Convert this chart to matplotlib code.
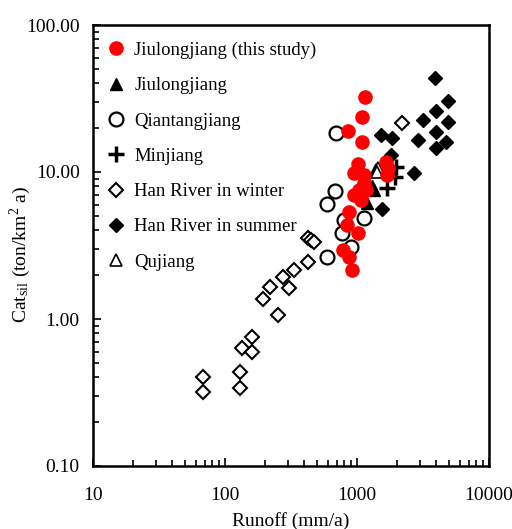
import matplotlib
matplotlib.use("Agg")
import matplotlib.pyplot as plt
from matplotlib.ticker import FixedLocator, FixedFormatter, LogLocator, NullFormatter

plt.rcParams['font.family'] = ['Liberation Serif', 'DejaVu Serif']
plt.rcParams['mathtext.fontset'] = 'stix'

# Jiulongjiang (this study)
jl_study_x = [1156, 1099, 861, 1099, 1025, 955, 1138, 1138, 1178, 955, 1080, 877, 846, 1025, 789, 877, 923, 1667, 1698, 1728, 1042]
jl_study_y = [32.4, 23.7, 19.0, 16.0, 11.3, 9.85, 9.55, 8.42, 7.55, 6.98, 6.45, 5.34, 4.36, 3.85, 2.95, 2.64, 2.15, 11.7, 9.55, 10.6, 7.55]
# Jiulongjiang (literature)
jl_x = [1353, 1199, 1290]
jl_y = [7.55, 6.15, 8.0]
# Qiantangjiang
qt_x = [698, 687, 597, 803, 1138, 776, 907, 597]
qt_y = [18.4, 7.43, 6.06, 4.71, 4.86, 3.85, 3.09, 2.64]
# Minjiang
mj_x = [1986, 1950, 1698]
mj_y = [10.8, 9.3, 7.79]
# Han River in winter
hw_x = [68, 68, 129, 129, 134, 159, 159, 250, 193, 218, 273, 308, 336, 422, 422, 452, 470, 2203]
hw_y = [0.40, 0.32, 0.435, 0.34, 0.635, 0.75, 0.60, 1.06, 1.37, 1.65, 1.93, 1.62, 2.15, 2.44, 3.56, 3.45, 3.35, 21.5]
# Han River in summer
hs_x = [3917, 4909, 3984, 3177, 4909, 3984, 4742, 3984, 2911, 1852, 1528, 1820, 2716, 1556]
hs_y = [43.6, 30.4, 26.0, 22.6, 21.9, 18.7, 16.0, 14.6, 16.5, 17.0, 17.9, 13.1, 9.85, 5.60]
# Qujiang
qj_x = [1402, 1455, 1426]
qj_y = [10.3, 10.6, 10.0]

y_ticks = [0.1, 1, 10, 100]
y_labels = ['0.10', '1.00', '10.00', '100.00']
x_ticks = [10, 100, 1000, 10000]
x_labels = ['10', '100', '1000', '10000']

fig = plt.figure(figsize=(5.12, 5.29), dpi=100)
ax = fig.add_axes([93/512, 1-466/529, (489-93)/512, (466-25)/529])

ax.plot(hw_x, hw_y, linestyle='none', marker='D', markersize=7.5, markerfacecolor='white',
        markeredgecolor='black', markeredgewidth=1.5, label='Han River in winter', zorder=2)
ax.plot(hs_x, hs_y, linestyle='none', marker='D', markersize=7.5, color='black',
        label='Han River in summer', zorder=2)
ax.plot(qt_x, qt_y, linestyle='none', marker='o', markersize=10, markerfacecolor='none',
        markeredgecolor='black', markeredgewidth=1.6, label='Qiantangjiang', zorder=3)
ax.plot(qj_x, qj_y, linestyle='none', marker='^', markersize=9, markerfacecolor='white',
        markeredgecolor='black', markeredgewidth=1.2, label='Qujiang', zorder=3)
ax.plot(jl_x, jl_y, linestyle='none', marker='^', markersize=9, color='black',
        label='Jiulongjiang', zorder=3)
ax.plot(mj_x, mj_y, linestyle='none', marker='+', markersize=11, markeredgewidth=2.5,
        color='black', label='Minjiang', zorder=3)
ax.plot(jl_study_x, jl_study_y, linestyle='none', marker='o', markersize=10.5, color='#ff0000',
        markeredgewidth=0, label='Jiulongjiang (this study)', zorder=4)

ax.set_xscale('log')
ax.set_yscale('log')
ax.set_xlim(10, 10000)
ax.set_ylim(0.1, 100)
ax.xaxis.set_major_locator(FixedLocator(x_ticks))
ax.xaxis.set_major_formatter(FixedFormatter(x_labels))
ax.yaxis.set_major_locator(FixedLocator(y_ticks))
ax.yaxis.set_major_formatter(FixedFormatter(y_labels))
ax.xaxis.set_minor_locator(LogLocator(base=10, subs=range(2, 10)))
ax.yaxis.set_minor_locator(LogLocator(base=10, subs=range(2, 10)))
ax.xaxis.set_minor_formatter(NullFormatter())
ax.yaxis.set_minor_formatter(NullFormatter())
ax.tick_params(which='both', direction='in', top=False, right=False, labelsize=14, width=1.2)
ax.tick_params(axis='x', which='major', length=6, pad=15)
ax.tick_params(axis='y', which='major', length=6, pad=9.5)
ax.tick_params(which='minor', length=4)
for s in ax.spines.values():
    s.set_linewidth(1.8)

ax.set_xlabel('Runoff (mm/a)', fontsize=14, labelpad=6)
ax.set_ylabel(r'Cat$_{\mathregular{sil}}$ (ton/km$^{\mathregular{2}}$ a)', fontsize=14)
ax.yaxis.set_label_coords(-0.152, 0.48)

h, l = ax.get_legend_handles_labels()
order = ['Jiulongjiang (this study)', 'Jiulongjiang', 'Qiantangjiang', 'Minjiang',
         'Han River in winter', 'Han River in summer', 'Qujiang']
hd = dict(zip(l, h))
ax.legend([hd[k] for k in order], order, loc='upper left', frameon=False, fontsize=13.5,
          labelspacing=0.97, handletextpad=0.35, handlelength=1.2, borderaxespad=0.25,
          bbox_to_anchor=(0.0, 0.99))

fig.savefig('out.png', dpi=100)
